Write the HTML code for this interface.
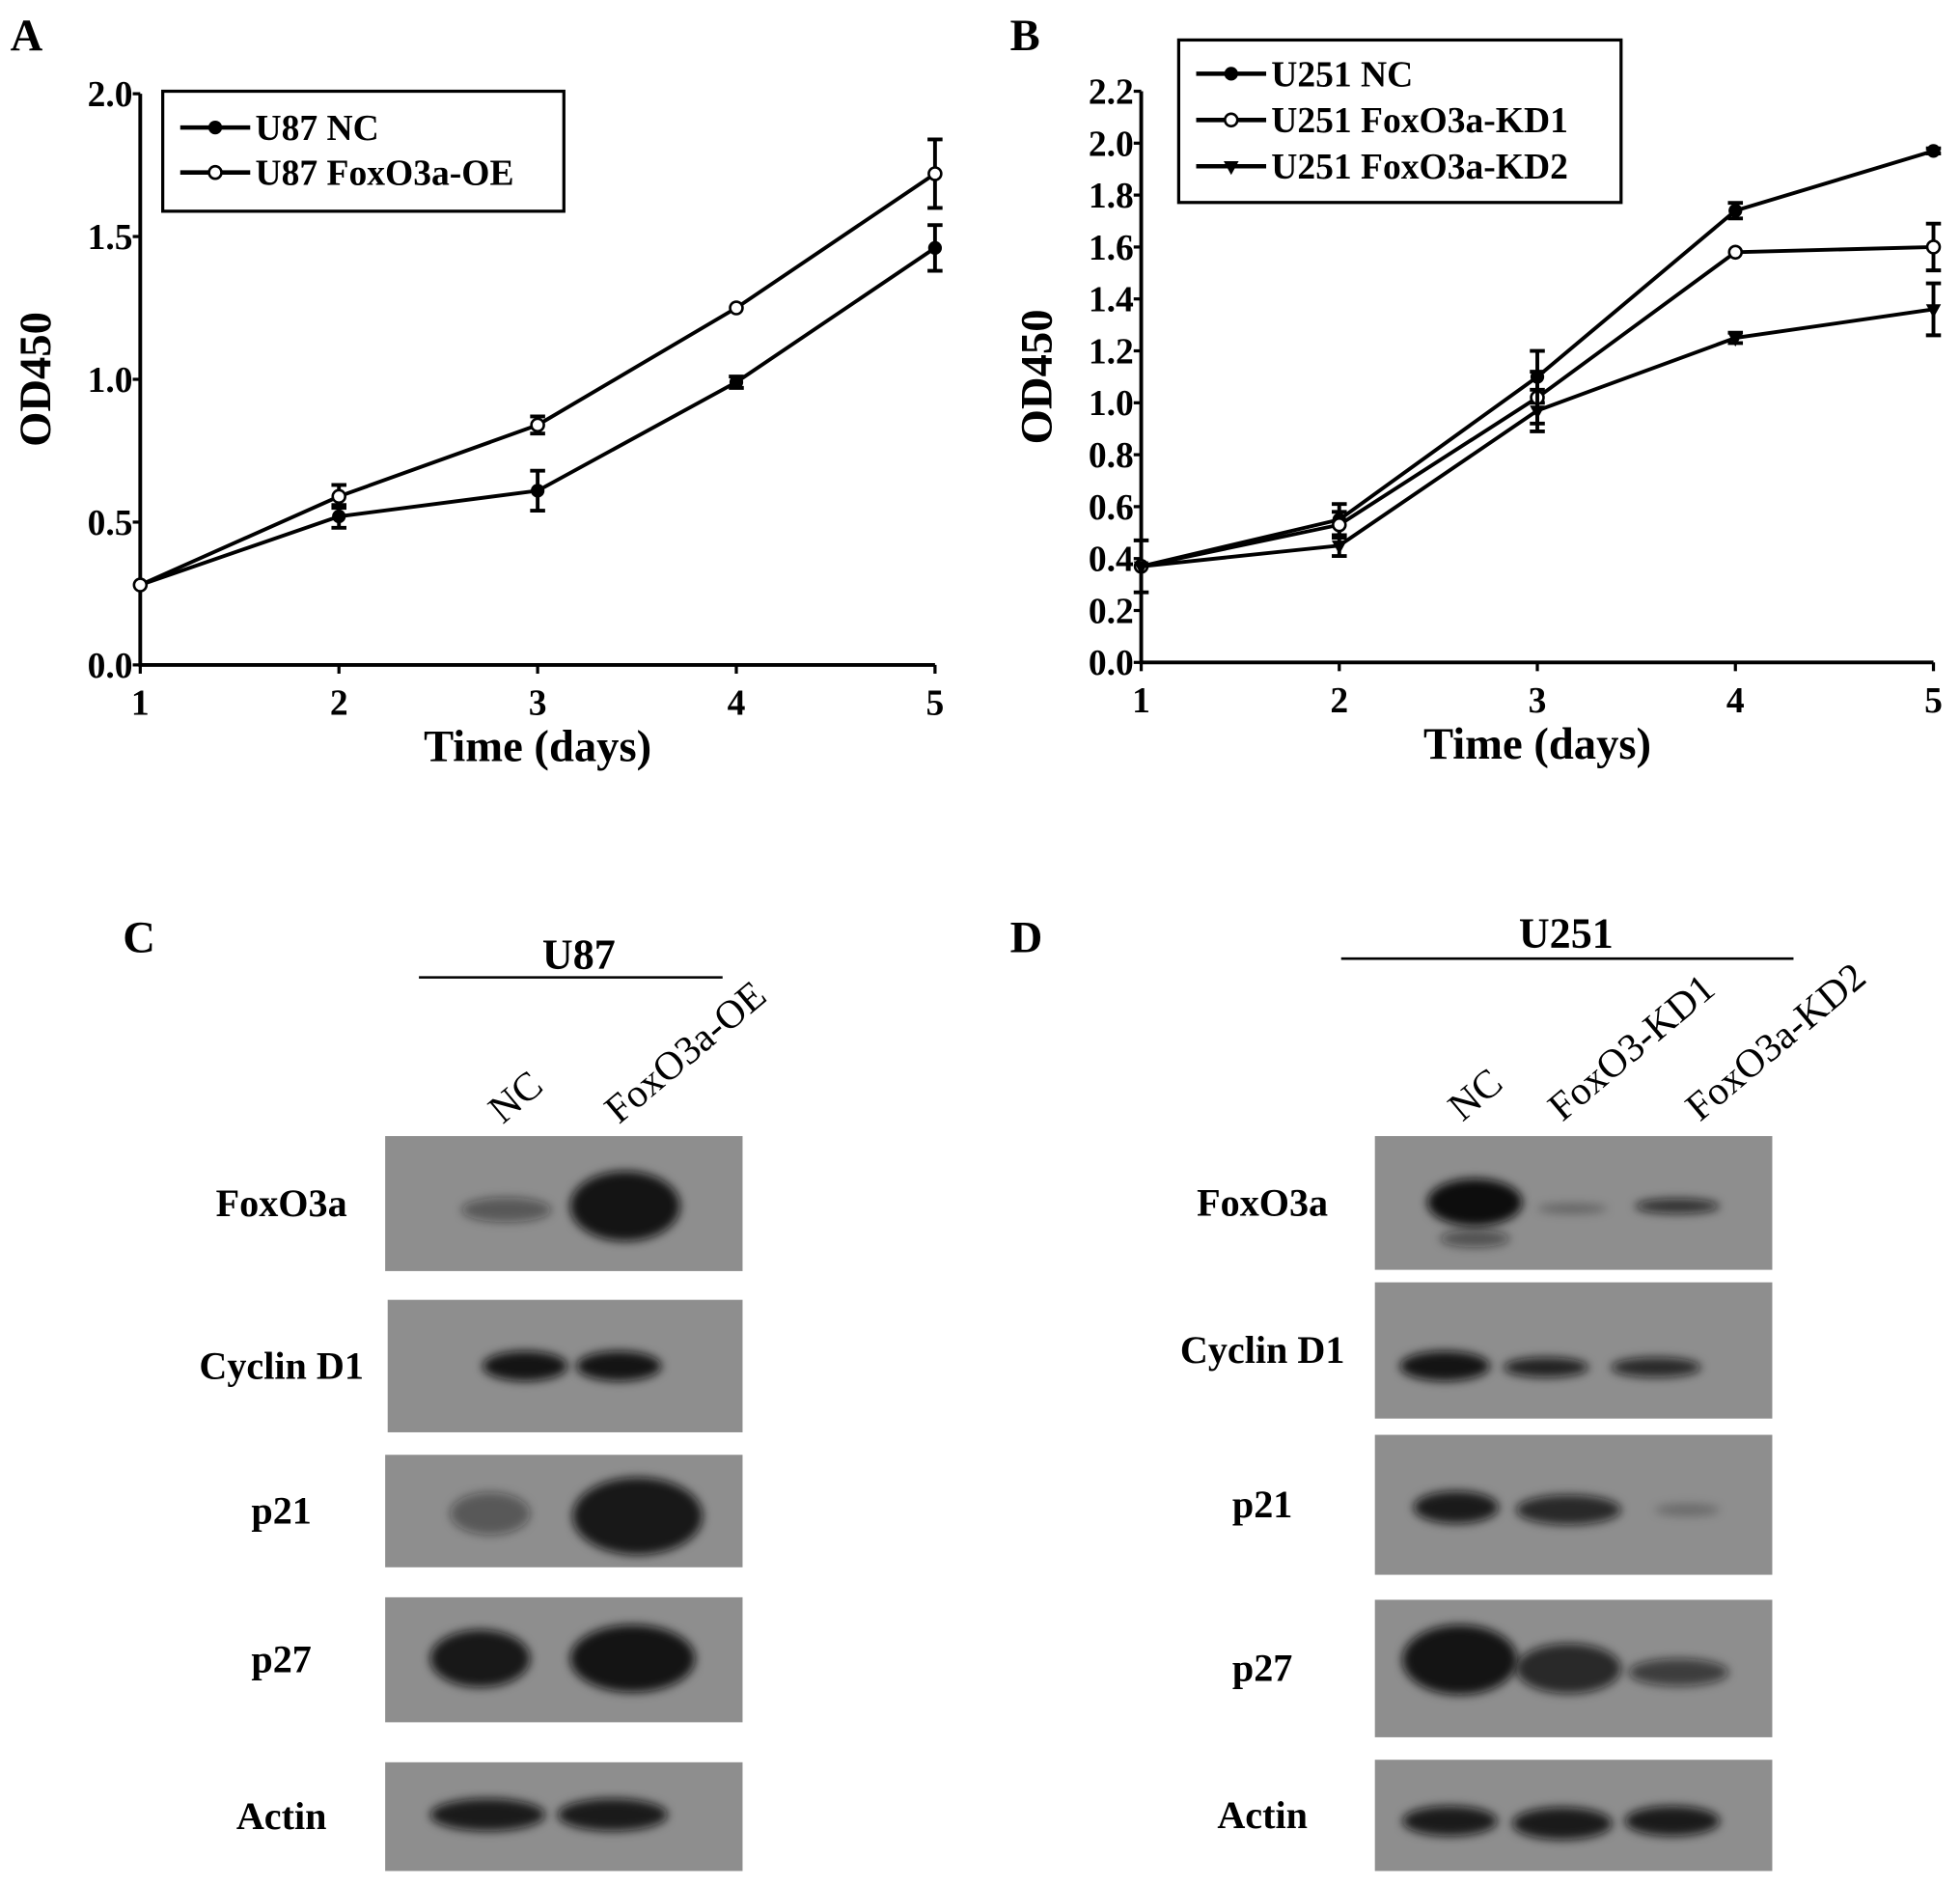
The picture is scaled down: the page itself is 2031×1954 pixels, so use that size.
<!DOCTYPE html>
<html><head><meta charset="utf-8"><style>
html,body{margin:0;padding:0;background:#fff}
svg{display:block}
text{font-family:"Liberation Serif",serif;font-weight:bold;fill:#000}
</style></head><body>
<svg id="fig" width="2031" height="1954" viewBox="0 0 1568 1509" xmlns="http://www.w3.org/2000/svg">
<defs>
<filter id="blur3" x="-50%" y="-100%" width="200%" height="300%"><feGaussianBlur stdDeviation="4"/></filter>
</defs>
<text x="8" y="40" font-size="36">A</text>
<text x="808" y="40" font-size="36">B</text>
<text x="98" y="762" font-size="36">C</text>
<text x="808" y="762" font-size="36">D</text>
<g id="chartA"></g>
<g id="chartB"></g>
<g id="blots"></g>
</svg>
<script>
const days = [1,2,3,4,5];
const ticksA = [0.0,0.5,1.0,1.5,2.0];
const ticksB = [0.0,0.2,0.4,0.6,0.8,1.0,1.2,1.4,1.6,1.8,2.0,2.2];
const aNC = [0.28,0.52,0.61,0.99,1.46];
const aNCerr = [0,0.04,0.07,0.02,0.08];
const aOE = [0.28,0.59,0.84,1.25,1.72];
const aOEerr = [0,0.04,0.03,0,0.12];
const bNC = [0.37,0.55,1.10,1.74,1.97];
const bNCerr = [0.10,0.06,0.10,0.03,0.01];
const bKD1 = [0.37,0.53,1.02,1.58,1.60];
const bKD1err = [0,0.05,0.10,0,0.09];
const bKD2 = [0.37,0.45,0.97,1.25,1.36];
const bKD2err = [0,0.04,0.08,0.02,0.10];

const NS="http://www.w3.org/2000/svg";
function mk(tag,attrs,parent){const e=document.createElementNS(NS,tag);for(const k in attrs)e.setAttribute(k,attrs[k]);parent.appendChild(e);return e;}

function chart(g, cfg){
  const xs=d=>cfg.x0+(d-1)*(cfg.x1-cfg.x0)/4;
  const ys=v=>cfg.y0-v*(cfg.y0-cfg.yTop)/cfg.ymax;
  let ax=mk('path',{d:`M${cfg.x0},${ys(cfg.ymax)} V${cfg.y0} H${cfg.x1}`,fill:'none',stroke:'#000','stroke-width':3},g);
  
  
  cfg.ticks.forEach(t=>{
    mk('line',{x1:cfg.x0-6,x2:cfg.x0,y1:ys(t),y2:ys(t),stroke:'#000','stroke-width':2.5},g);
    const tx=mk('text',{x:cfg.x0-6,y:ys(t)+10,'text-anchor':'end','font-size':29},g);
    tx.textContent=t.toFixed(1);
    
    
  });
  days.forEach(d=>{
    mk('line',{x1:xs(d),x2:xs(d),y1:cfg.y0,y2:cfg.y0+7,stroke:'#000','stroke-width':2.5},g);
    const tx=mk('text',{x:xs(d),y:cfg.y0+40,'text-anchor':'middle','font-size':29},g);
    tx.textContent=d;
    
    
  });
  const xt=mk('text',{x:(cfg.x0+cfg.x1)/2,y:cfg.y0+77,'text-anchor':'middle','font-size':36},g);
  xt.textContent='Time (days)';
  
  
  const yt=mk('text',{x:0,y:0,'text-anchor':'middle','font-size':36,transform:`translate(${cfg.x0-72},${(cfg.y0+ys(cfg.ymax))/2}) rotate(-90)`},g);
  yt.textContent='OD450';
  
  
  cfg.series.forEach(s=>{
    const sg=mk('g',{},g);
    
    
    mk('polyline',{points:s.v.map((v,i)=>xs(days[i])+','+ys(v)).join(' '),fill:'none',stroke:'#000','stroke-width':3},sg);
    s.v.forEach((v,i)=>{
      const x=xs(days[i]),e=s.e[i];
      if(e>0){
        mk('path',{d:`M${x},${ys(v-e)}V${ys(v+e)}M${x-6},${ys(v-e)}H${x+6}M${x-6},${ys(v+e)}H${x+6}`,stroke:'#000','stroke-width':3,fill:'none'},sg);
      }
      drawMarker(sg,s.m,x,ys(v));
    });
  });
  const lg=mk('g',{},g);
  
  
  mk('rect',{x:cfg.leg[0],y:cfg.leg[1],width:cfg.leg[2],height:cfg.leg[3],fill:'#fff',stroke:'#000','stroke-width':2.5},lg);
  cfg.series.forEach((s,i)=>{
    const y=cfg.leg[1]+cfg.legTop+i*cfg.legStep;
    const lx=cfg.leg[0]+14;
    mk('line',{x1:lx,x2:lx+56,y1:y,y2:y,stroke:'#000','stroke-width':3.5},lg);
    drawMarker(lg,s.m,lx+28,y);
    const t=mk('text',{x:lx+60,y:y+10,'font-size':29},lg);
    t.textContent=s.label;
    
    
  });
}
function drawMarker(g,m,x,y){
  if(m==='filled') mk('circle',{cx:x,cy:y,r:5.5,fill:'#000'},g);
  else if(m==='open') mk('circle',{cx:x,cy:y,r:5,fill:'#fff',stroke:'#000','stroke-width':2},g);
  else mk('path',{d:`M${x-6},${y-4}H${x+6}L${x},${y+7}Z`,fill:'#000'},g);
}
chart(document.getElementById('chartA'),{x0:112,x1:748,y0:532,yTop:75,ymax:2.0,ticks:ticksA,
  leg:[130,73,321,96],legTop:29,legStep:36,
  series:[{name:'series-u87-nc',label:'U87 NC',v:aNC,e:aNCerr,m:'filled'},{name:'series-u87-foxo3a-oe',label:'U87 FoxO3a-OE',v:aOE,e:aOEerr,m:'open'}]});
chart(document.getElementById('chartB'),{x0:913,x1:1547,y0:530,yTop:73,ymax:2.2,ticks:ticksB,
  leg:[943,32,354,130],legTop:27,legStep:37,
  series:[{name:'series-u251-nc',label:'U251 NC',v:bNC,e:bNCerr,m:'filled'},{name:'series-u251-kd1',label:'U251 FoxO3a-KD1',v:bKD1,e:bKD1err,m:'open'},{name:'series-u251-kd2',label:'U251 FoxO3a-KD2',v:bKD2,e:bKD2err,m:'tri'}]});

// Western blots
const blotNamesC=['FoxO3a','Cyclin D1','p21','p27','Actin'];
const blotBoxC=[[308,909,286,108],[310,1040,284,106],[308,1164,286,90],[308,1278,286,100],[308,1410,286,87]];
const bandsC=[
 [[405,968,36,10,0.45],[500,965,44,28,0.95]],
 [[420,1093,34,12,0.95],[495,1093,34,12,0.95]],
 [[392,1211,32,17,0.45],[510,1213,52,31,0.92]],
 [[384,1327,40,23,0.92],[506,1327,50,27,0.95]],
 [[390,1452,46,13,0.9],[490,1452,44,13,0.9]]];
const blotNamesD=['FoxO3a','Cyclin D1','p21','p27','Actin'];
const blotBoxD=[[1100,909,318,107],[1100,1026,318,109],[1100,1148,318,112],[1100,1280,318,110],[1100,1408,318,89]];
const bandsD=[
 [[1180,962,38,19,1],[1180,991,28,7,0.5],[1258,967,28,4,0.3],[1342,965,34,6,0.75]],
 [[1156,1093,36,12,0.95],[1237,1094,34,8,0.85],[1325,1094,36,8,0.8]],
 [[1165,1206,34,13,0.9],[1255,1208,42,12,0.8],[1350,1208,26,5,0.25]],
 [[1168,1328,46,28,0.95],[1255,1335,42,20,0.8],[1343,1338,40,11,0.65]],
 [[1160,1457,38,12,0.9],[1250,1459,40,13,0.9],[1338,1457,38,12,0.9]]];
const bl=document.getElementById('blots');
function blots(names,boxes,bands,lx){
  boxes.forEach((b,i)=>{
    const g=mk('g',{},bl);
    
    
    mk('rect',{x:b[0],y:b[1],width:b[2],height:b[3],fill:'#8e8e8e'},g);
    bands[i].forEach(d=>mk('ellipse',{cx:d[0],cy:d[1],rx:d[2],ry:d[3],fill:'#111','fill-opacity':d[4],filter:'url(#blur3)'},g));
    const t=mk('text',{x:lx,y:b[1]+b[3]/2+10,'text-anchor':'middle','font-size':31},g);
    t.textContent=names[i];
    
    
  });
}
blots(blotNamesC,blotBoxC,bandsC,225);
blots(blotNamesD,blotBoxD,bandsD,1010);
function lab(txt,x,y,rot,size,name,bold){
  const t=mk('text',{x:0,y:0,'font-size':size,style:bold?'font-weight:bold':'font-weight:normal','text-anchor':rot?'start':'middle',transform:`translate(${x},${y}) rotate(${rot})`},bl);
  t.textContent=txt;
  
  
}
lab('U87',463,775,0,34,'group-label-u87',true);
mk('line',{x1:335,x2:578,y1:782,y2:782,stroke:'#000','stroke-width':2},bl);
lab('U251',1253,758,0,34,'group-label-u251',true);
mk('line',{x1:1073,x2:1435,y1:767,y2:767,stroke:'#000','stroke-width':2},bl);
lab('NC',402,900,-40,32,'lane-label-nc');
lab('FoxO3a-OE',495,900,-40,32,'lane-label-foxo3a-oe');
lab('NC',1170,898,-40,32,'lane-label-nc');
lab('FoxO3-KD1',1250,898,-40,32,'lane-label-kd1');
lab('FoxO3a-KD2',1360,898,-40,32,'lane-label-kd2');
</script>
</body></html>
